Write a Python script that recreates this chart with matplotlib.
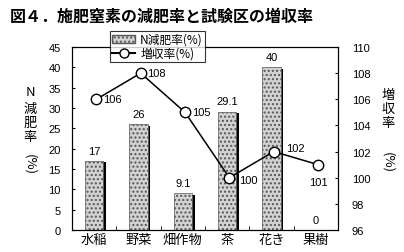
import matplotlib
matplotlib.use("Agg")
import matplotlib.pyplot as plt
from matplotlib.lines import Line2D
from matplotlib.patches import Patch

plt.rcParams['font.family'] = ['Liberation Sans', 'Noto Sans CJK JP', 'DejaVu Sans']
JP = ['Noto Sans CJK JP', 'DejaVu Sans']

# --- data ---
crops = ["水稲", "野菜", "畑作物", "茶", "花き", "果樹"]
reduction = [17, 26, 9.1, 29.1, 40, 0]        # N減肥率(%)
yield_up = [106, 108, 105, 100, 102, 101]     # 増収率(%)
bar_labels = ["17", "26", "9.1", "29.1", "40", "0"]

W, H = 404, 253
fig = plt.figure(figsize=(W / 100, H / 100), dpi=100)
ax = fig.add_axes([72 / W, 1 - 231 / H, 266 / W, 183 / H])
ax2 = ax.twinx()

x = list(range(len(crops)))
w = 0.42

# shadow then bar
ax.bar([i + 0.06 for i in x], [max(v - 0.4, 0) for v in reduction], width=w,
       color="black", zorder=1)
ax.bar(x, reduction, width=w, color="#d2d2d2", edgecolor="#555555",
       linewidth=0.5, hatch="....", zorder=2)
for i, v in enumerate(reduction):
    ax.text(i, v + 1.3, bar_labels[i], ha="center", va="bottom", fontsize=8)

ax.set_xlim(-0.5, len(crops) - 0.5)
ax.set_ylim(0, 45)
ax.set_yticks(range(0, 46, 5))
ax.set_xticks(x)
ax.set_xticklabels(crops, fontsize=9.5, family=JP)
ax.set_xticks([i + 0.5 for i in x[:-1]], minor=True)
ax.tick_params(axis="x", which="major", length=0, pad=2)
ax.tick_params(axis="x", which="minor", length=3, direction="in")
ax.tick_params(axis="y", labelsize=8, length=2, direction="in", pad=8)

# line on right axis
ax2.plot([i + 0.05 for i in x], yield_up, color="black", lw=1.1,
         marker="o", ms=7.5, mfc="white", mec="black", mew=1, zorder=5)
ax2.set_ylim(96, 110)
ax2.set_yticks(range(96, 111, 2))
ax2.tick_params(axis="y", labelsize=8, length=2, direction="in", pad=10)

offsets = [(0.15, 0, "left"), (0.15, 0, "left"), (0.15, 0, "left"),
           (0.22, -0.2, "left"), (0.27, 0.3, "left"), (0.0, -1.3, "center")]
for i, v in enumerate(yield_up):
    dx, dy, ha = offsets[i]
    ax2.text(i + 0.05 + dx, v + dy, str(v), ha=ha, va="center", fontsize=8)

for a in (ax, ax2):
    for s in a.spines.values():
        s.set_linewidth(0.8)


def vlabel(xc, chars, ys, paren_y):
    for c, yp in zip(chars, ys):
        fig.text(xc / W, 1 - yp / H, c, ha="center", va="center",
                 fontsize=9.5, family=JP)
    fig.text(xc / W, 1 - paren_y / H, "(%)", ha="center", va="center",
             fontsize=9.5, rotation=-90, family=JP)


vlabel(30, ["N", "減", "肥", "率"], [93, 109, 123, 137], 165)
vlabel(388, ["増", "収", "率"], [95, 110, 124], 163)

fig.text(10 / W, 1 - 17 / H, "図４．施肥窒素の減肥率と試験区の増収率",
         fontsize=11.5, fontweight="bold", ha="left", va="center", family=JP)

handles = [Patch(facecolor="#d2d2d2", edgecolor="#555555", hatch="...."),
           Line2D([0], [0], color="black", marker="o", mfc="white", mec="black",
                  ms=6.5)]
leg = fig.legend(handles, ["N減肥率(%)", "増収率(%)"], loc="upper left",
                 bbox_to_anchor=(110 / W, 1 - 32 / H), fontsize=8.5,
                 prop={"family": JP, "size": 8.5}, frameon=True,
                 fancybox=False, edgecolor="black", handlelength=2,
                 borderpad=0.15, labelspacing=0.1, handletextpad=0.4,
                 borderaxespad=0)
leg.get_frame().set_linewidth(0.8)

fig.savefig("out.png", dpi=100)
